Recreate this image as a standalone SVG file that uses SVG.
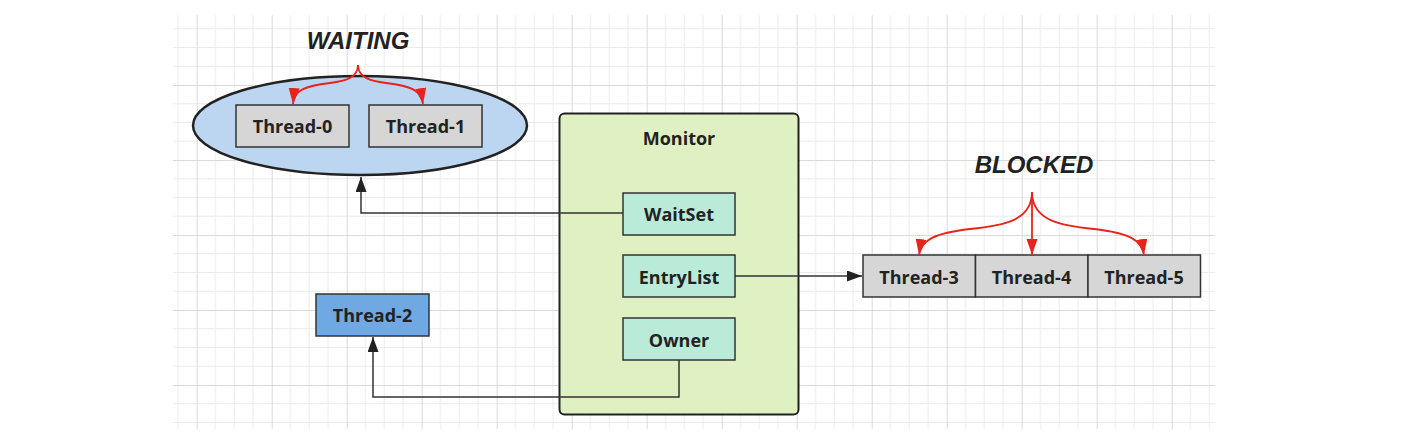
<svg xmlns="http://www.w3.org/2000/svg" width="1402" height="442" viewBox="0 0 1402 442">
  <style>
    .lbl { font-family: "Open Sans", "Liberation Sans", Arial, sans-serif; font-weight: bold; font-size: 18px; fill: #222; text-anchor: middle; }
    .state { font-family: "Liberation Sans", Arial, sans-serif; font-weight: bold; font-style: italic; font-size: 24px; fill: #222; text-anchor: middle; }
    .gray { fill: #d6d6d6; stroke: #333; stroke-width: 1.5; }
    .mint { fill: #b9ebd8; stroke: #333; stroke-width: 1.5; }
    .conn { fill: none; stroke: #333; stroke-width: 1.5; }
    .red { fill: none; stroke: #e8231c; stroke-width: 1.8; }
  </style>
  <defs>
    <pattern id="grid" patternUnits="userSpaceOnUse" x="121.7" y="10" width="75" height="75">
      <rect x="0" y="0" width="75" height="75" fill="#ffffff"/>
      <g stroke="#ececec" stroke-width="1">
        <line x1="18.75" y1="0" x2="18.75" y2="75"/>
        <line x1="37.5" y1="0" x2="37.5" y2="75"/>
        <line x1="56.25" y1="0" x2="56.25" y2="75"/>
        <line x1="0" y1="18.75" x2="75" y2="18.75"/>
        <line x1="0" y1="37.5" x2="75" y2="37.5"/>
        <line x1="0" y1="56.25" x2="75" y2="56.25"/>
      </g>
      <g stroke="#dadada" stroke-width="1">
        <line x1="0.5" y1="0" x2="0.5" y2="75"/>
        <line x1="0" y1="0.5" x2="75" y2="0.5"/>
      </g>
    </pattern>
    <marker id="ab" markerUnits="userSpaceOnUse" markerWidth="16" markerHeight="12" refX="15" refY="5.5" orient="auto">
      <path d="M0,0 L15,5.5 L0,11 z" fill="#222"/>
    </marker>
    <marker id="ar" markerUnits="userSpaceOnUse" markerWidth="17" markerHeight="12" refX="16" refY="5.5" orient="auto">
      <path d="M0,0 L16,5.5 L0,11 z" fill="#e8231c"/>
    </marker>
  </defs>

  <rect x="0" y="0" width="1402" height="442" fill="#ffffff"/>
  <rect x="173" y="15" width="1042" height="414" fill="url(#grid)"/>

  <g id="waiting-label">
    <text class="state" x="358" y="49">WAITING</text>
  </g>
  <g id="blocked-label">
    <text class="state" x="1034" y="173">BLOCKED</text>
  </g>

  <g id="waitset-pool">
    <ellipse cx="360" cy="125.5" rx="167" ry="49.5" fill="#bcd5f0" stroke="#222" stroke-width="2.5"/>
  </g>
  <g id="thread-0">
    <rect class="gray" x="236" y="105" width="113" height="42"/>
    <text class="lbl" x="292.5" y="133">Thread-0</text>
  </g>
  <g id="thread-1">
    <rect class="gray" x="369" y="105" width="113" height="42"/>
    <text class="lbl" x="425.5" y="133">Thread-1</text>
  </g>

  <g id="monitor">
    <rect x="559.5" y="113.5" width="239" height="301" rx="5" fill="#dff1c3" stroke="#222" stroke-width="2"/>
    <text class="lbl" x="679" y="145">Monitor</text>
  </g>
  <g id="waitset">
    <rect class="mint" x="623" y="193" width="112" height="42"/>
    <text class="lbl" x="679" y="221">WaitSet</text>
  </g>
  <g id="entrylist">
    <rect class="mint" x="623" y="255" width="112" height="42"/>
    <text class="lbl" x="679" y="283.5">EntryList</text>
  </g>
  <g id="owner">
    <rect class="mint" x="623" y="318" width="112" height="42"/>
    <text class="lbl" x="679" y="346.5">Owner</text>
  </g>

  <g id="thread-2">
    <rect x="316" y="294" width="113" height="42" fill="#6fa8e2" stroke="#333" stroke-width="1.5"/>
    <text class="lbl" x="372.5" y="321.5">Thread-2</text>
  </g>

  <g id="thread-3">
    <rect class="gray" x="863" y="255" width="112.5" height="42"/>
    <text class="lbl" x="919" y="284">Thread-3</text>
  </g>
  <g id="thread-4">
    <rect class="gray" x="975.5" y="255" width="112.5" height="42"/>
    <text class="lbl" x="1031.5" y="284">Thread-4</text>
  </g>
  <g id="thread-5">
    <rect class="gray" x="1088" y="255" width="112.5" height="42"/>
    <text class="lbl" x="1144" y="284">Thread-5</text>
  </g>

  <g id="connectors">
    <path class="conn" d="M623,213 H361 V177" marker-end="url(#ab)"/>
    <path class="conn" d="M735,276 H862" marker-end="url(#ab)"/>
    <path class="conn" d="M679,360 V397 H373 V337" marker-end="url(#ab)"/>
    <path class="red" d="M358,65 C358,78 345,81 330,83 C305,86 294,90 293,104" marker-end="url(#ar)"/>
    <path class="red" d="M358,65 C358,78 371,81 386,83 C411,86 421,90 423,104" marker-end="url(#ar)"/>
    <path class="red" d="M1032,192 C1032,222 1000,226 970,229 C935,233 921,240 919,255" marker-end="url(#ar)"/>
    <path class="red" d="M1032,192 V255" marker-end="url(#ar)"/>
    <path class="red" d="M1032,192 C1032,222 1064,226 1094,229 C1129,233 1142,240 1144,255" marker-end="url(#ar)"/>
  </g>
</svg>
